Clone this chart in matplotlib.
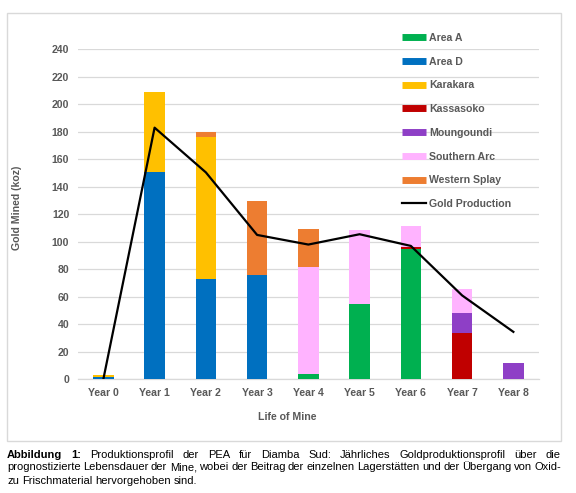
import matplotlib
matplotlib.use("Agg")
import matplotlib.pyplot as plt
from matplotlib.lines import Line2D
from matplotlib.patches import Rectangle
import numpy as np

plt.rcParams['font.family'] = ['Liberation Sans', 'DejaVu Sans']

# data (koz)
years = ['Year 0', 'Year 1', 'Year 2', 'Year 3', 'Year 4', 'Year 5', 'Year 6', 'Year 7', 'Year 8']
area_a = [0, 0, 0, 0, 3.5, 54.5, 95, 0, 0]
area_d = [1.5, 151, 73, 75.5, 0, 0, 0, 0, 0]
karakara = [1.5, 58, 103, 0, 0, 0, 0, 0, 0]
kassasoko = [0, 0, 0, 0, 0, 0, 1, 34, 0]
moungoundi = [0, 0, 0, 0, 0, 0, 0, 14.5, 11.5]
southern_arc = [0, 0, 0, 0, 78, 54, 15.5, 17, 0]
western_splay = [0, 0, 4, 54.5, 27.5, 0, 0, 0, 0]
gold_production = [0, 183, 150.5, 105, 98, 105.5, 97, 61, 34.5]

series = [
    ('Area A', area_a, '#00B050'),
    ('Area D', area_d, '#0070C0'),
    ('Karakara', karakara, '#FFC000'),
    ('Kassasoko', kassasoko, '#C00000'),
    ('Moungoundi', moungoundi, '#8E3FC6'),
    ('Southern Arc', southern_arc, '#FFB3FF'),
    ('Western Splay', western_splay, '#ED7D31'),
]

gray = '#595959'
fs = 7.6

fig = plt.figure(figsize=(5.76, 4.93), dpi=100)
ax = fig.add_axes([77.7 / 576, 1 - 379.3 / 493, 461.3 / 576, 330 / 493])

x = np.arange(len(years))
bottom = np.zeros(len(years))
handles = []
for name, vals, col in series:
    ax.bar(x, vals, 0.4, bottom=bottom, color=col, zorder=3)
    bottom += np.array(vals)
    handles.append(Line2D([], [], color=col, lw=5, solid_capstyle='butt', label=name))

ax.plot(x, gold_production, color='black', lw=1.6, zorder=4)
handles.append(Line2D([], [], color='black', lw=1.6, label='Gold Production'))

ax.set_xlim(-0.5, 8.5)
ax.set_ylim(0, 240)
ax.set_yticks(range(0, 241, 20))
ax.set_xticks(x)
ax.set_xticklabels(years)
ax.grid(axis='y', color='#D9D9D9', lw=0.9, zorder=0)
for s in ['top', 'right', 'left']:
    ax.spines[s].set_visible(False)
ax.spines['bottom'].set_color('#D9D9D9')
ax.spines['bottom'].set_linewidth(0.9)
ax.tick_params(length=0, labelsize=fs, labelcolor=gray, pad=6)
for t in ax.get_xticklabels() + ax.get_yticklabels():
    t.set_fontweight('bold')

ax.set_ylabel('Gold Mined (koz)', fontsize=fs, fontweight='bold', color=gray)
ax.yaxis.set_label_coords(-0.121, 0.52)
ax.set_xlabel('Life of Mine', fontsize=fs, fontweight='bold', color=gray)
ax.xaxis.set_label_coords(0.454, -0.099)

leg = fig.legend(handles=handles, loc='upper left', bbox_to_anchor=(402 / 576, 1 - 33 / 493),
                 frameon=False, fontsize=fs, handlelength=2.3, handletextpad=0.3,
                 labelspacing=1.30, borderpad=0, borderaxespad=0)
for t in leg.get_texts():
    t.set_color(gray)
    t.set_fontweight('bold')

# chart border
fig.patches.append(Rectangle((7 / 576, 1 - 441 / 493), 554 / 576, 428 / 493,
                             transform=fig.transFigure, fill=False, ec='#D9D9D9', lw=1))

# caption, justified like the source document
cap_fs = 8.0
cap_lines = [
    ("Abbildung 1: Produktionsprofil der PEA für Diamba Sud: Jährliches Goldproduktionsprofil über die", True),
    ("prognostizierte Lebensdauer der Mine, wobei der Beitrag der einzelnen Lagerstätten und der Übergang von Oxid-", True),
    ("zu Frischmaterial hervorgehoben sind.", False),
]
cap_baseline = [457.5, 470.5, 483.5]
left, right = 7, 561
renderer = fig.canvas.get_renderer()
for (line, justify), yy in zip(cap_lines, cap_baseline):
    words = line.split(' ')
    texts = []
    for i, w in enumerate(words):
        bold = line.startswith('Abbildung') and i < 2
        t = fig.text(0, 1 - yy / 493, w, fontsize=cap_fs, color='black', va='baseline',
                     fontweight='bold' if bold else 'normal')
        texts.append(t)
    widths = [t.get_window_extent(renderer).width for t in texts]
    if justify:
        gap = (right - left - sum(widths)) / (len(words) - 1)
    else:
        gap = cap_fs * 100 / 72 * 0.278
    xx = left
    for t, w in zip(texts, widths):
        t.set_x(xx / 576)
        xx += w + gap

fig.savefig('out.png', dpi=100)
